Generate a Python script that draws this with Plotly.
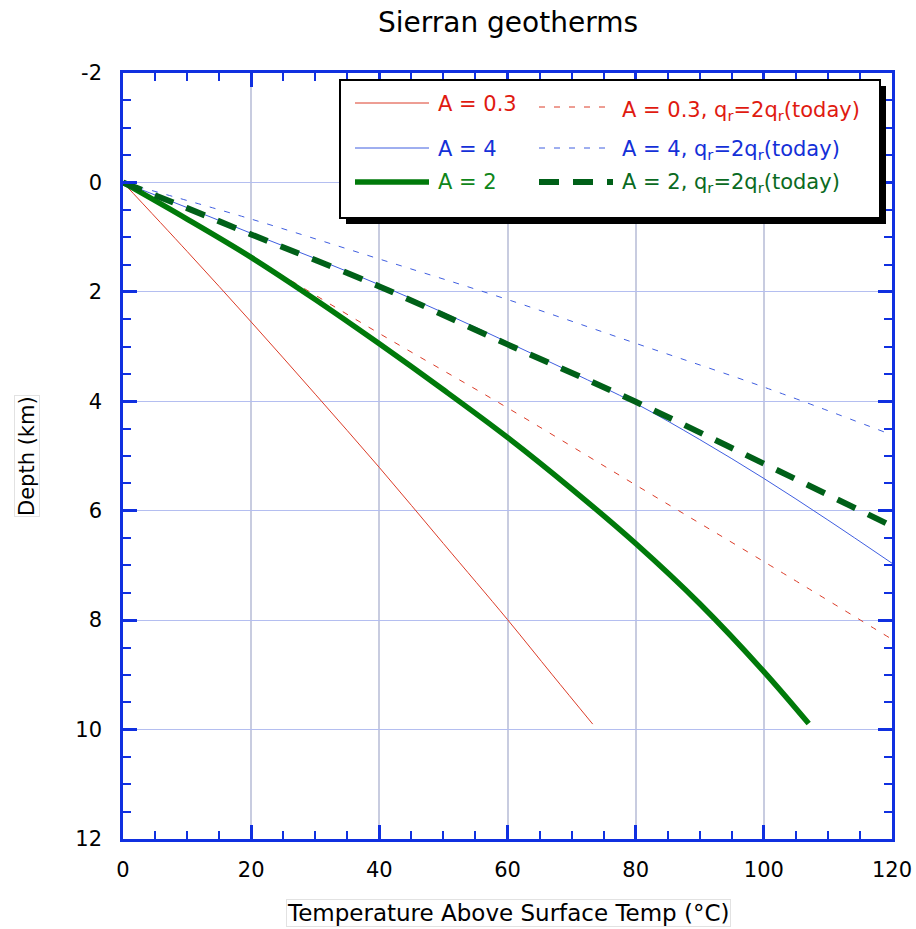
import plotly.graph_objects as go

# Temperature above surface (deg C) and depth (km) for each geotherm
temp_a03 = [0, 10, 20, 30, 40, 50, 60, 67, 73.3]
depth_a03 = [0, 1.26, 2.55, 3.87, 5.21, 6.6, 7.99, 9.0, 9.9]

temp_a03_q2 = [0, 20, 40, 60, 80, 100, 120]
depth_a03_q2 = [0, 1.36, 2.76, 4.12, 5.53, 6.93, 8.35]

temp_a4 = [0, 10, 20, 30, 40, 50, 60, 70, 80, 90, 100, 110, 120]
depth_a4 = [0, 0.46, 0.93, 1.39, 1.87, 2.38, 2.92, 3.47, 4.04, 4.7, 5.41, 6.17, 6.96]

temp_a4_q2 = [0, 20, 40, 60, 80, 100, 119]
depth_a4_q2 = [0, 0.67, 1.40, 2.14, 2.94, 3.74, 4.57]

temp_a2 = [0, 10, 20, 30, 40, 50, 60, 70, 80, 90, 100, 107]
depth_a2 = [0, 0.67, 1.37, 2.14, 2.95, 3.79, 4.66, 5.6, 6.6, 7.7, 8.94, 9.89]

temp_a2_q2 = [0, 10, 20, 40, 60, 80, 100, 120]
depth_a2_q2 = [0, 0.47, 0.95, 1.9, 2.96, 4.01, 5.14, 6.28]

x_ticks = [0, 20, 40, 60, 80, 100, 120]
x_tick_text = ["0", "20", "40", "60", "80", "100", "120"]
y_ticks = [-2, 0, 2, 4, 6, 8, 10, 12]
y_tick_text = ["-2", "0", "2", "4", "6", "8", "10", "12"]

labels_left = ["A = 0.3", "A = 4", "A = 2"]
labels_right = ["A = 0.3, q<sub>r</sub>=2q<sub>r</sub>(today)",
                "A = 4, q<sub>r</sub>=2q<sub>r</sub>(today)",
                "A = 2, q<sub>r</sub>=2q<sub>r</sub>(today)"]

RED = "#dc3c28"
RED_TXT = "#e01a10"
BLUE = "#3f5ee0"
BLUE_TXT = "#1430d8"
GREEN = "#007a0a"
GREEN_TXT = "#10861a"
DKGREEN = "#006018"
DKGREEN_TXT = "#0a6a22"
AXIS = "#1030e0"
FONT = "DejaVu Sans"

W, H = 916, 929
ML, MR, MT, MB = 123, 24, 73, 90
PW, PH = W - ML - MR, H - MT - MB


def px(x):
    return (x - ML) / PW


def py(y):
    return (H - MB - y) / PH


series = [
    (temp_a03, depth_a03, RED, 1, "solid", labels_left[0]),
    (temp_a03_q2, depth_a03_q2, RED, 1, "6px,9px", labels_right[0]),
    (temp_a4, depth_a4, BLUE, 1, "solid", labels_left[1]),
    (temp_a4_q2, depth_a4_q2, BLUE, 1, "6px,9px", labels_right[1]),
    (temp_a2, depth_a2, GREEN, 5.5, "solid", labels_left[2]),
    (temp_a2_q2, depth_a2_q2, DKGREEN, 6, "20px,14px", labels_right[2]),
]

fig = go.Figure()
for xs, ys, col, w, dash, name in series:
    fig.add_trace(go.Scatter(
        x=xs, y=ys, mode="lines", name=name, showlegend=False,
        line=dict(color=col, width=w, dash=dash, shape="spline", smoothing=1.0),
    ))

common_x = dict(range=[0, 120], tickmode="array", tickvals=x_ticks,
                ticktext=x_tick_text, zeroline=False)
common_y = dict(range=[12, -2], tickmode="array", tickvals=y_ticks,
                ticktext=y_tick_text, zeroline=False)
outward = dict(ticks="outside", ticklen=13, tickwidth=2.5, tickcolor=AXIS,
               showticklabels=False, showgrid=False, showline=False)

fig.update_layout(
    width=W, height=H, autosize=False,
    margin=dict(l=ML, r=MR, t=MT, b=MB, autoexpand=False),
    paper_bgcolor="white", plot_bgcolor="white",
    font=dict(family=FONT, size=21, color="black"),
    title=dict(text="Sierran geotherms", x=px(508), xref="paper",
               xanchor="center", y=1 - 22 / H, yanchor="middle",
               font=dict(family=FONT, size=28, color="black")),
    xaxis=dict(
        **common_x, showgrid=True, gridcolor="#c8cce0", gridwidth=1.5,
        showline=True, linecolor=AXIS, linewidth=2.5, mirror="ticks",
        ticks="inside", ticklen=14, tickwidth=2.5, tickcolor=AXIS,
        minor=dict(ticks="inside", ticklen=8, tickwidth=2, tickcolor=AXIS,
                   dtick=5, tick0=0, showgrid=False),
        tickfont=dict(family=FONT, size=21, color="black"),
        ticklabelstandoff=10,
    ),
    yaxis=dict(
        **common_y, showgrid=True, gridcolor="#b4bef0", gridwidth=1,
        showline=True, linecolor=AXIS, linewidth=2.5, mirror="ticks",
        ticks="inside", ticklen=14, tickwidth=2.5, tickcolor=AXIS,
        minor=dict(ticks="inside", ticklen=8, tickwidth=2, tickcolor=AXIS,
                   dtick=0.5, tick0=0, showgrid=False),
        tickfont=dict(family=FONT, size=21, color="black"),
        ticklabelstandoff=14,
    ),
    # outward halves of the major ticks on all four sides
    xaxis2=dict(**common_x, **outward, overlaying="x", anchor="y", side="bottom"),
    xaxis3=dict(**common_x, **outward, overlaying="x", anchor="y", side="top"),
    yaxis2=dict(**common_y, **outward, overlaying="y", anchor="x", side="left"),
    yaxis3=dict(**common_y, **outward, overlaying="y", anchor="x", side="right"),
)

# axis titles in thin light boxes
fig.add_annotation(text="Depth (km)", xref="paper", yref="paper",
                   x=px(27), y=py(456), xanchor="center", yanchor="middle",
                   textangle=-90, showarrow=False,
                   font=dict(family=FONT, size=21, color="black"),
                   bordercolor="#e2e2e2", borderwidth=1, borderpad=0,
                   bgcolor="white")
fig.add_annotation(text="Temperature Above Surface Temp (°C)", xref="paper",
                   yref="paper", x=px(508), y=py(913), xanchor="center",
                   yanchor="middle", showarrow=False,
                   font=dict(family=FONT, size=23, color="black"),
                   bordercolor="#e2e2e2", borderwidth=1, borderpad=0,
                   bgcolor="white")

# legend box with drop shadow
fig.add_shape(type="rect", xref="paper", yref="paper",
              x0=px(346), x1=px(886), y0=py(86), y1=py(224),
              fillcolor="black", line=dict(width=0), layer="above")
fig.add_shape(type="rect", xref="paper", yref="paper",
              x0=px(340), x1=px(880), y0=py(80), y1=py(218),
              fillcolor="white", line=dict(color="black", width=2),
              layer="above")

legend_rows = [
    # (left sample y, left text y, right sample y, right text y)
    (103, 104, 107, 111),
    (148, 149, 148, 150),
    (182, 182, 182, 183),
]
left_cols = [(RED, 1, "solid", RED_TXT), (BLUE, 1, "solid", BLUE_TXT),
             (GREEN, 5.5, "solid", GREEN_TXT)]
right_cols = [(RED, 1, "6px,9px", RED_TXT), (BLUE, 1, "6px,9px", BLUE_TXT),
              (DKGREEN, 6, "20px,14px", DKGREEN_TXT)]

for i, (ly, lty, ry, rty) in enumerate(legend_rows):
    c, w, d, tc = left_cols[i]
    fig.add_shape(type="line", xref="paper", yref="paper",
                  x0=px(355), x1=px(429), y0=py(ly), y1=py(ly),
                  line=dict(color=c, width=w, dash=d), layer="above")
    fig.add_annotation(text=labels_left[i], xref="paper", yref="paper",
                       x=px(436), y=py(lty), xanchor="left", yanchor="middle",
                       showarrow=False,
                       font=dict(family=FONT, size=21, color=tc))
    c, w, d, tc = right_cols[i]
    fig.add_shape(type="line", xref="paper", yref="paper",
                  x0=px(539), x1=px(613), y0=py(ry), y1=py(ry),
                  line=dict(color=c, width=w, dash=d), layer="above")
    fig.add_annotation(text=labels_right[i], xref="paper", yref="paper",
                       x=px(620), y=py(rty), xanchor="left", yanchor="middle",
                       showarrow=False,
                       font=dict(family=FONT, size=21, color=tc))

fig.write_html("out.html")
